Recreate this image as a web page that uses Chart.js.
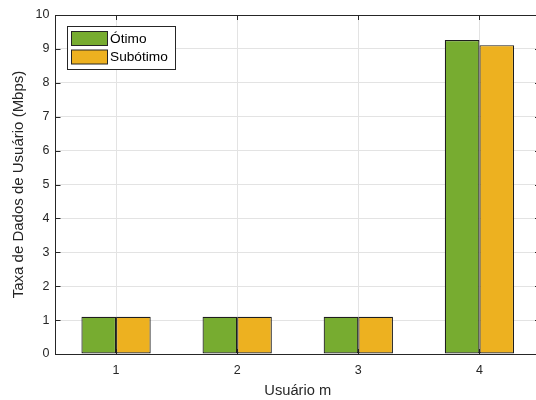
<!DOCTYPE html>
<html>
<head>
<meta charset="utf-8">
<script src="https://cdn.jsdelivr.net/npm/chart.js@4"></script>
<style>
  html, body { margin: 0; padding: 0; background: #fff; overflow: hidden; }
  #wrap { width: 536px; height: 400px; overflow: hidden; position: relative; }
  #box { width: 540px; height: 400px; }
</style>
</head>
<body>
<div id="wrap"><div id="box"><canvas id="c"></canvas></div></div>
<script>
// Users on the x axis and data rates (Mbps) per allocation scheme
const usuarios = ['1', '2', '3', '4'];
const otimo = [1.1, 1.1, 1.1, 9.26];
const subotimo = [1.1, 1.1, 1.1, 9.11];
const yTicks = [0, 1, 2, 3, 4, 5, 6, 7, 8, 9, 10];

const AXIS = '#262626';
const GRID = '#e3e3e3';
const FONT = 'Liberation Sans, Arial, sans-serif';

// Frame on top, tick marks pointing inward (drawn behind the bars)
const frameTicks = {
  id: 'frameTicks',
  beforeDatasetsDraw(chart) {
    const { ctx, chartArea: a, scales: { x, y } } = chart;
    ctx.save();
    ctx.strokeStyle = AXIS;
    ctx.lineWidth = 1;
    ctx.beginPath();
    const L = 5;
    yTicks.forEach(v => {
      const py = Math.round(y.getPixelForValue(v)) + 0.5;
      ctx.moveTo(a.left, py); ctx.lineTo(a.left + L, py);
      ctx.moveTo(a.right, py); ctx.lineTo(a.right - L, py);
    });
    usuarios.forEach((u, i) => {
      const px = Math.round(x.getPixelForValue(i)) + 0.5;
      ctx.moveTo(px, a.bottom); ctx.lineTo(px, a.bottom - L);
      ctx.moveTo(px, a.top); ctx.lineTo(px, a.top + L);
    });
    ctx.stroke();
    ctx.restore();
  },
  afterDraw(chart) {
    const { ctx, chartArea: a } = chart;
    ctx.save();
    ctx.strokeStyle = AXIS;
    ctx.lineWidth = 1;
    ctx.beginPath();
    ctx.moveTo(a.left, Math.round(a.top) + 0.5);
    ctx.lineTo(a.right, Math.round(a.top) + 0.5);
    ctx.stroke();
    ctx.restore();
  }
};

// Boxed legend in the upper-left corner of the plot
const boxLegend = {
  id: 'boxLegend',
  afterDraw(chart) {
    const { ctx, chartArea: a } = chart;
    const x0 = Math.round(a.left + 11), y0 = Math.round(a.top + 10.5);
    const w = 108, h = 43;
    ctx.save();
    ctx.fillStyle = '#fff';
    ctx.fillRect(x0, y0, w, h);
    ctx.strokeStyle = AXIS;
    ctx.lineWidth = 1;
    ctx.strokeRect(x0 + 0.5, y0 + 0.5, w, h);
    ctx.font = '13.7px ' + FONT;
    ctx.textBaseline = 'middle';
    chart.data.datasets.forEach((ds, i) => {
      const sy = y0 + 5 + i * 18.5;
      ctx.fillStyle = ds.backgroundColor;
      ctx.fillRect(x0 + 4.5, sy + 0.5, 36, 14);
      ctx.strokeStyle = AXIS;
      ctx.strokeRect(x0 + 4.5, sy + 0.5, 36, 14);
      ctx.fillStyle = '#000';
      ctx.fillText(ds.label, x0 + 43, sy + 8);
    });
    ctx.restore();
  }
};

new Chart(document.getElementById('c'), {
  type: 'bar',
  data: {
    labels: usuarios,
    datasets: [
      { label: 'Ótimo', data: otimo, backgroundColor: '#77AC30', borderColor: '#1e1e1e', borderWidth: 1.2, borderSkipped: false },
      { label: 'Subótimo', data: subotimo, backgroundColor: '#EDB120', borderColor: '#1e1e1e', borderWidth: 1.2, borderSkipped: false }
    ]
  },
  options: {
    responsive: true,
    maintainAspectRatio: false,
    animation: false,
    devicePixelRatio: 1,
    layout: { padding: { top: 15, right: 0, left: 0, bottom: 0 } },
    plugins: { legend: { display: false }, tooltip: { enabled: false } },
    datasets: { bar: { categoryPercentage: 0.572, barPercentage: 1 } },
    scales: {
      x: {
        offset: true,
        grid: { offset: false, color: GRID, drawTicks: false },
        border: { display: true, color: AXIS, width: 1 },
        ticks: { color: '#262626', font: { family: FONT, size: 12.5 }, padding: 9, maxRotation: 0 },
        title: { display: true, text: 'Usuário m', color: '#262626', font: { family: FONT, size: 14.7 }, padding: { top: 0, bottom: 0 } },
        afterFit(s) { s.height = 46; }
      },
      y: {
        min: 0, max: 10,
        grid: { color: GRID, drawTicks: false },
        border: { display: true, color: AXIS, width: 1 },
        afterBuildTicks(s) { s.ticks = yTicks.map(v => ({ value: v })); },
        ticks: { color: '#262626', font: { family: FONT, size: 12.5 }, padding: 6 },
        title: { display: true, text: 'Taxa de Dados de Usuário (Mbps)', color: '#262626', font: { family: FONT, size: 15 }, padding: { top: 10, bottom: 0 } },
        afterFit(s) { s.width = 55.5; }
      }
    }
  },
  plugins: [frameTicks, boxLegend]
});
</script>
</body>
</html>
